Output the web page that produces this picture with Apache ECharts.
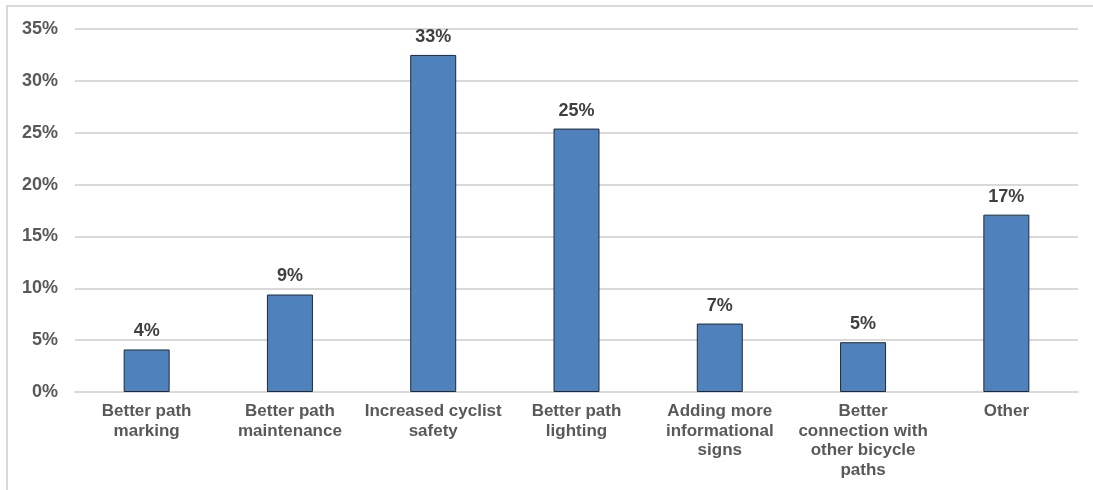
<!DOCTYPE html>
<html>
<head>
<meta charset="utf-8">
<script src="https://cdn.jsdelivr.net/npm/echarts@6/dist/echarts.min.js"></script>
<style>
  html, body { margin: 0; padding: 0; background: #fff; overflow: hidden; }
  #frame { position: absolute; left: 6px; top: 5px; width: 1200px; height: 600px;
           border-left: 2px solid #d9d9d9; border-top: 2px solid #d9d9d9; }
  #chart { position: absolute; left: 0; top: 0; width: 1093px; height: 490px; }
</style>
</head>
<body>
<div id="frame"></div>
<div id="chart"></div>
<script>
const categories = [
  "Better path\nmarking",
  "Better path\nmaintenance",
  "Increased cyclist\nsafety",
  "Better path\nlighting",
  "Adding more\ninformational\nsigns",
  "Better\nconnection with\nother bicycle\npaths",
  "Other"
];
const values = [4.1, 9.4, 32.5, 25.4, 6.6, 4.8, 17.1];
const yTicks = [0, 5, 10, 15, 20, 25, 30, 35];

const chart = echarts.init(document.getElementById("chart"));
chart.setOption({
  animation: false,
  textStyle: { fontFamily: "Liberation Sans, Arial, sans-serif" },
  grid: { left: 75, right: 15, top: 29, bottom: 98 },
  xAxis: {
    type: "category",
    data: categories,
    axisLine: { lineStyle: { color: "#d9d9d9", width: 2 } },
    axisTick: { show: false },
    axisLabel: {
      color: "#595959",
      fontWeight: "bold",
      fontSize: 17,
      lineHeight: 19.5,
      margin: 10,
      interval: 0
    }
  },
  yAxis: {
    type: "value",
    min: yTicks[0],
    max: yTicks[yTicks.length - 1],
    interval: 5,
    axisLine: { show: false },
    axisTick: { show: false },
    splitLine: { lineStyle: { color: "#d9d9d9", width: 2 } },
    axisLabel: {
      color: "#595959",
      fontWeight: "bold",
      fontSize: 18,
      margin: 17,
      formatter: "{value}%"
    }
  },
  series: [{
    type: "bar",
    data: values,
    barWidth: 46,
    itemStyle: { color: "#4f81bd", borderColor: "#1f2a38", borderWidth: 1 },
    label: {
      show: true,
      position: "top",
      distance: 9,
      color: "#404040",
      fontWeight: "bold",
      fontSize: 18,
      formatter: (p) => Math.round(p.value) + "%"
    }
  }]
});
</script>
</body>
</html>
